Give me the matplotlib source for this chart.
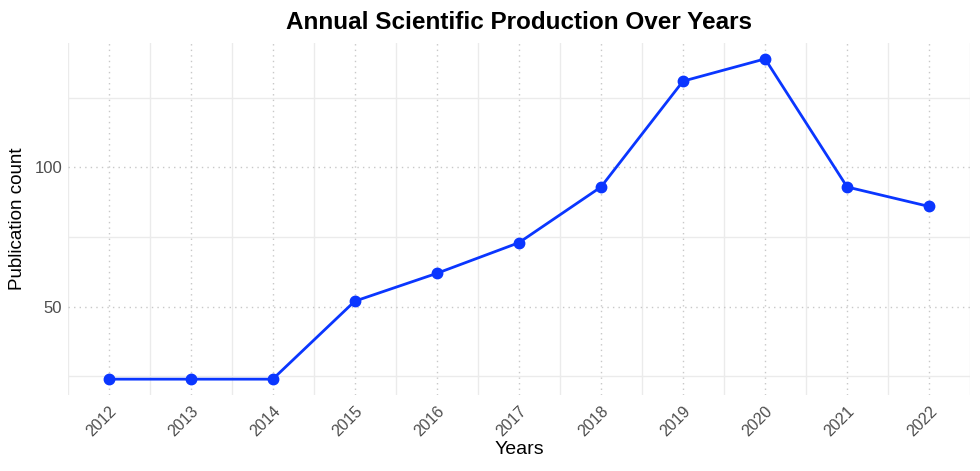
import numpy as np
import matplotlib
matplotlib.use('Agg')
import matplotlib.pyplot as plt
from matplotlib.ticker import MultipleLocator

years = [2012, 2013, 2014, 2015, 2016, 2017, 2018, 2019, 2020, 2021, 2022]
counts = [24, 24, 24, 52, 62, 73, 93, 131, 139, 93, 86]

plt.rcParams['font.family'] = ['Liberation Sans', 'DejaVu Sans']

fig = plt.figure(figsize=(9.8, 4.71), dpi=100)
ax = fig.add_axes([0.069, 0.161, 0.921, 0.748])

ax.plot(years, counts, color='#0a36ff', linewidth=2, marker='o', markersize=7.5, zorder=3)

ax.set_xlim(2011.5, 2022.5)
lo, hi = min(counts), max(counts)
pad = (hi - lo) * 0.05
ax.set_ylim(lo - pad, hi + pad)

ax.set_xticks(years)
ax.set_xticklabels([str(y) for y in years], rotation=45, ha='right', rotation_mode='anchor')
ax.xaxis.set_minor_locator(MultipleLocator(1, offset=0.5))
ax.yaxis.set_major_locator(MultipleLocator(50))
ax.yaxis.set_minor_locator(MultipleLocator(50, offset=25))

ax.grid(which='major', color='#c8c8c8', linestyle=(0, (1, 3)), linewidth=1)
ax.grid(which='minor', color='#ebebeb', linestyle='-', linewidth=1)
ax.set_axisbelow(True)

for s in ax.spines.values():
    s.set_visible(False)
ax.tick_params(which='both', length=0)
ax.tick_params(axis='both', labelcolor='#4d4d4d')
ax.tick_params(axis='x', labelsize=11.5, pad=6)
ax.tick_params(axis='y', labelsize=12, pad=4)

ax.set_xlabel('Years', fontsize=14, labelpad=1)
ax.set_ylabel('Publication count', fontsize=13.5, labelpad=6)
ax.set_title('Annual Scientific Production Over Years', fontsize=17.5, fontweight='bold', pad=10)

fig.savefig('out.png', dpi=100, facecolor='white')
